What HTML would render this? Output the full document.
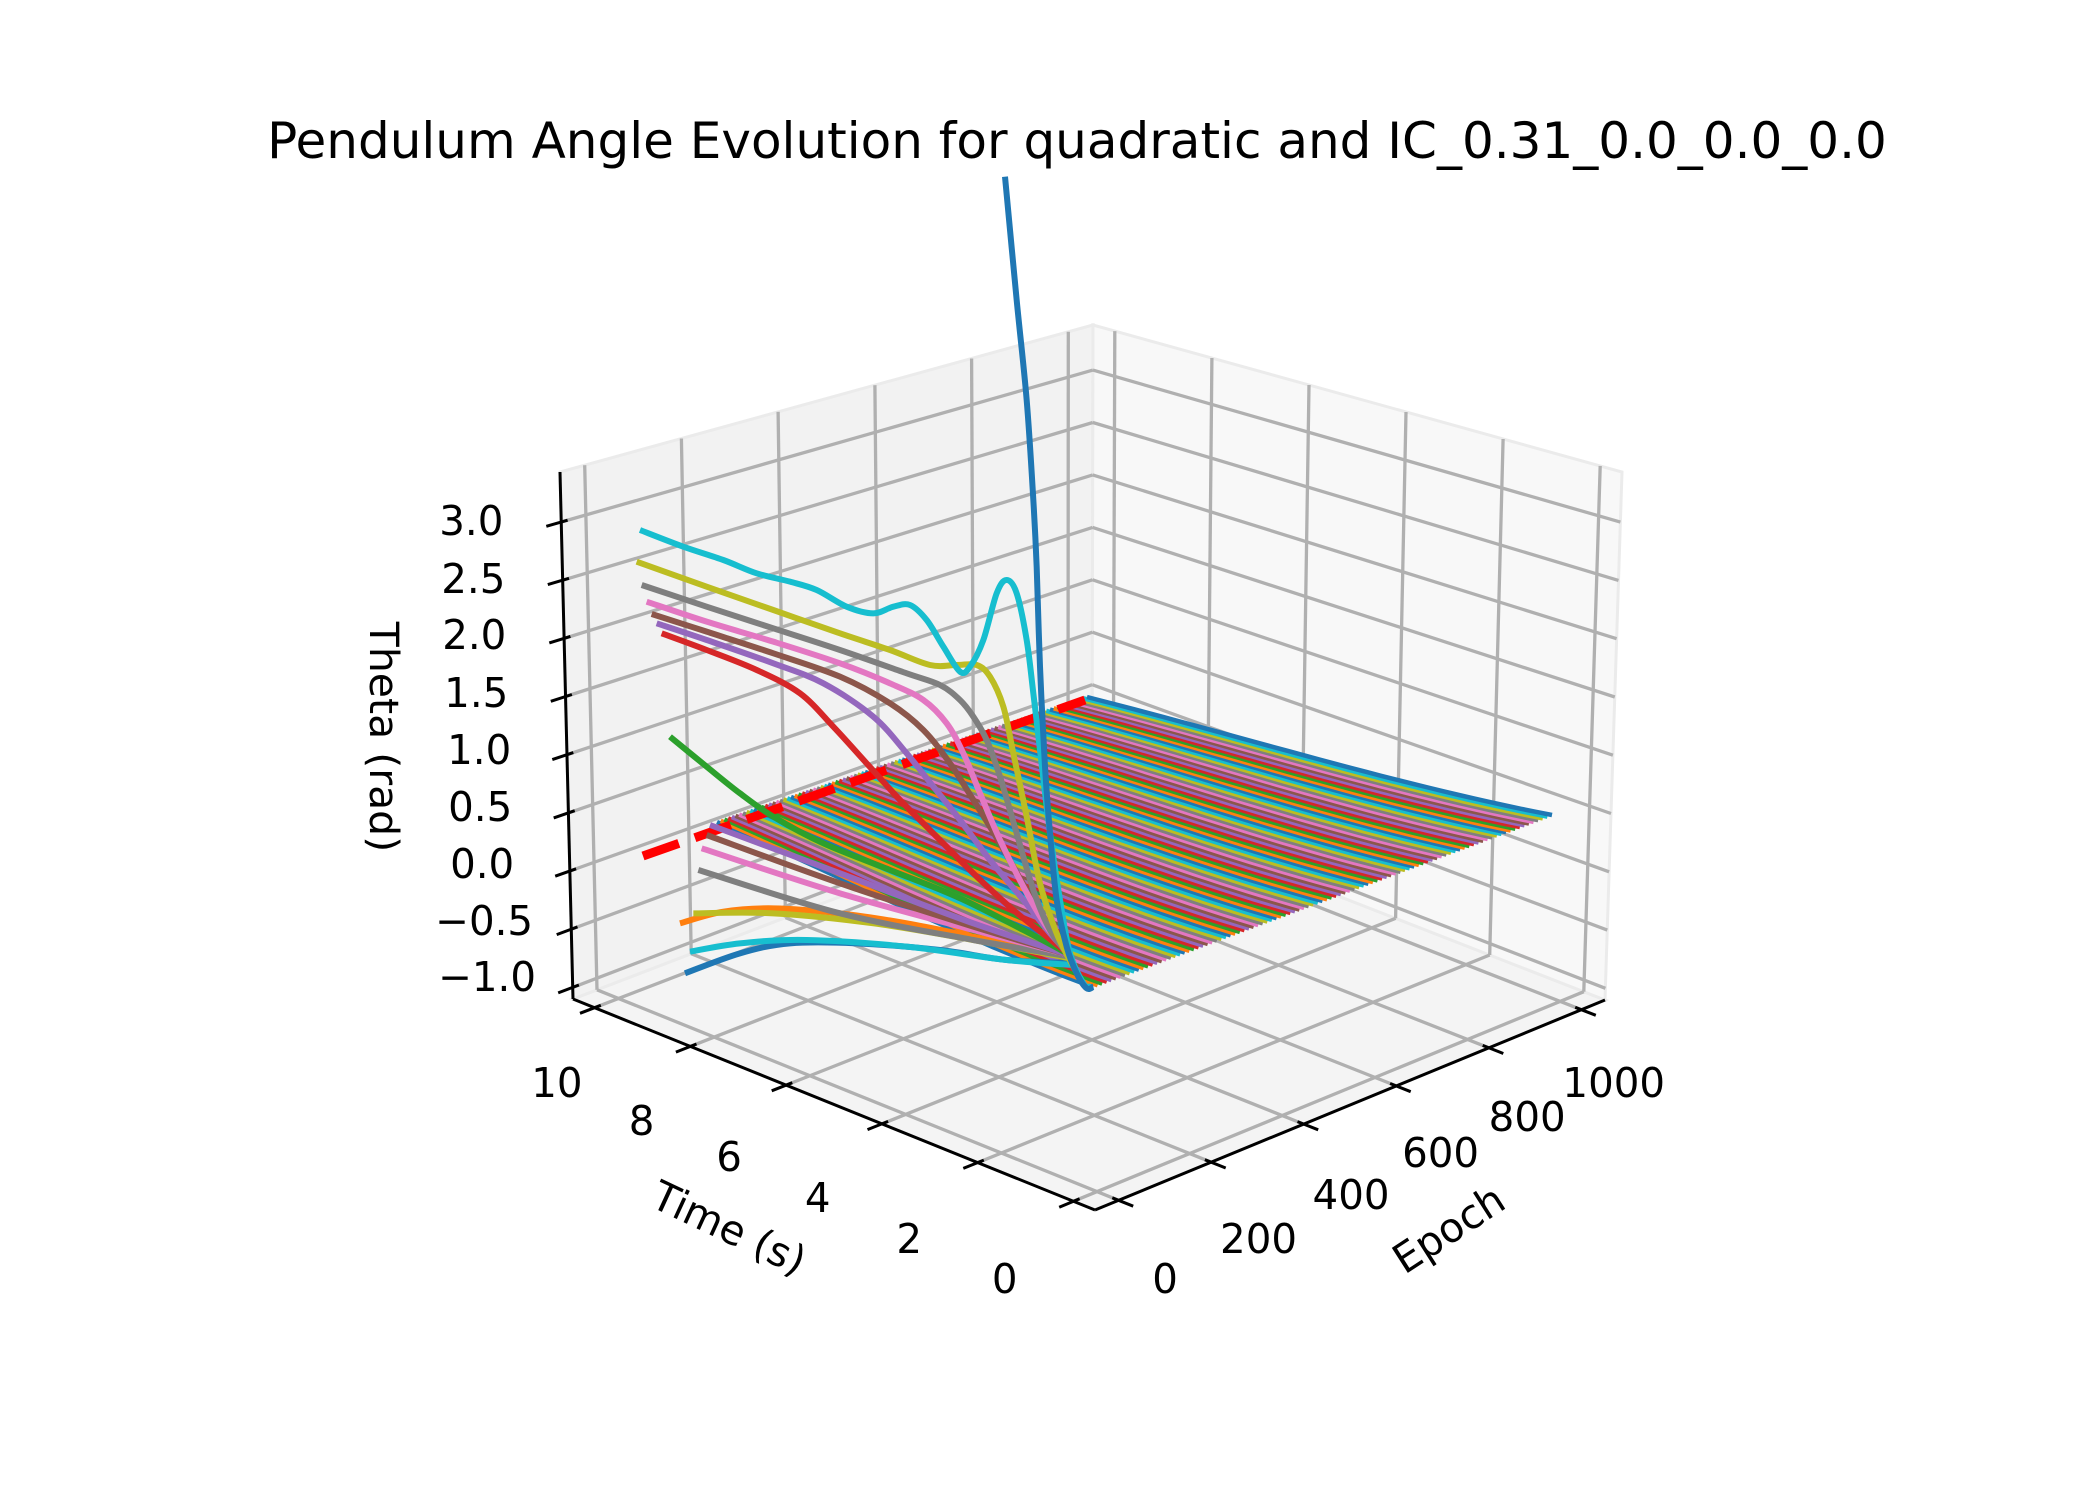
<!DOCTYPE html>
<html><head><meta charset="utf-8"><style>
html,body{margin:0;padding:0;background:#fff;}
svg{display:block;}
text{font-family:"DejaVu Sans","Liberation Sans",sans-serif;fill:#000;}
</style></head><body>
<svg id="s" width="2100" height="1500" viewBox="0 0 2100 1500" xmlns="http://www.w3.org/2000/svg">
<rect width="2100" height="1500" fill="#fff"/>
<g id="panes"></g><g id="grid"></g><g id="axes"></g><g id="data"></g>
<text x="1077" y="158" font-size="50" text-anchor="middle">Pendulum Angle Evolution for quadratic and IC_0.31_0.0_0.0_0.0</text>
<g font-size="41" text-anchor="middle" transform="matrix(0.984 0 0 1 0 -14)">
<text x="566" y="1111">10</text><text x="652" y="1149">8</text><text x="741" y="1185">6</text><text x="831" y="1226">4</text><text x="924" y="1267">2</text><text x="1021" y="1307">0</text>
<text x="1184" y="1307">0</text><text x="1279" y="1267">200</text><text x="1373" y="1223">400</text><text x="1464" y="1181">600</text><text x="1552" y="1145">800</text><text x="1640" y="1111">1000</text>
<text x="495" y="1005">−1.0</text><text x="492" y="949">−0.5</text><text x="490" y="892">0.0</text><text x="488" y="835">0.5</text><text x="487" y="778">1.0</text><text x="484" y="721">1.5</text><text x="482" y="663">2.0</text><text x="481" y="607">2.5</text><text x="479" y="549">3.0</text>
<text transform="translate(376,751) rotate(90)">Theta (rad)</text>
<text transform="translate(735,1255) rotate(25)">Time (s)</text>
<text transform="translate(1480,1255) rotate(-33)">Epoch</text>
</g>
</svg>
<script>
(function(){
var NS="http://www.w3.org/2000/svg";
function el(par,tag,a){var e=document.createElementNS(NS,tag);for(var k in a)e.setAttribute(k,a[k]);document.getElementById(par).appendChild(e);return e;}
function bil(F,L,B,R){return function(s,t){return[0,1].map(function(k){return F[k]*(1-s)*(1-t)+L[k]*s*(1-t)+B[k]*s*t+R[k]*(1-s)*t;});};}
var FL=bil([1095,1210],[573,999],[1092,800],[1605,1000]);
var TP=bil([1095,619],[560,472],[1093,325],[1622,472]);
function pr(u,v,w){var a=FL(u,v),b=TP(u,v);return[a[0]+(b[0]-a[0])*w,a[1]+(b[1]-a[1])*w];}
var tmin=-0.45,tmax=10.45,emin=-51,emax=1051,zmin=-1.1,zmax=3.43;
function U(t){return (t-tmin)/(tmax-tmin);}function V(e){return (e-emin)/(emax-emin);}function W(z){return (z-zmin)/(zmax-zmin);}
function poly(par,pts,a){a.points=pts.map(function(p){return p[0].toFixed(1)+","+p[1].toFixed(1);}).join(" ");return el(par,"polyline",a);}
function pg(par,pts,fill){el(par,"polygon",{points:pts.map(function(p){return p.join(",");}).join(" "),fill:fill,stroke:"#ebebeb","stroke-width":3});}
pg("panes",[pr(0,0,0),pr(1,0,0),pr(1,1,0),pr(0,1,0)],"#f4f4f4");
pg("panes",[pr(1,0,0),pr(1,1,0),pr(1,1,1),pr(1,0,1)],"#f2f2f2");
pg("panes",[pr(1,1,0),pr(0,1,0),pr(0,1,1),pr(1,1,1)],"#f8f8f8");
var G={stroke:"#b0b0b0","stroke-width":3.3,fill:"none"};
function line(par,a,b2,st){var o={};for(var k in st)o[k]=st[k];return poly(par,[a,b2],o);}
var ts=[0,2,4,6,8,10],es=[0,200,400,600,800,1000],zs=[-1,-0.5,0,0.5,1,1.5,2,2.5,3];
ts.forEach(function(t){var u=U(t);line("grid",pr(u,0,0),pr(u,1,0),G);line("grid",pr(u,1,0),pr(u,1,1),G);});
es.forEach(function(e){var v=V(e);line("grid",pr(0,v,0),pr(1,v,0),G);line("grid",pr(1,v,0),pr(1,v,1),G);});
zs.forEach(function(z){var w=W(z);line("grid",pr(1,0,w),pr(1,1,w),G);line("grid",pr(1,1,w),pr(0,1,w),G);});
var K={stroke:"#000","stroke-width":3,fill:"none"};
line("axes",pr(0,0,0),pr(1,0,0),K);line("axes",pr(0,0,0),pr(0,1,0),K);line("axes",pr(1,0,0),pr(1,0,1),K);
ts.forEach(function(t){var u=U(t);line("axes",pr(u,0.012,0),pr(u,-0.028,0),K);});
es.forEach(function(e){var v=V(e);line("axes",pr(0.012,v,0),pr(-0.028,v,0),K);});
zs.forEach(function(z){var w=W(z);line("axes",pr(1,0.012,w),pr(1,-0.028,w),K);});
var col=["#1f77b4","#ff7f0e","#2ca02c","#d62728","#9467bd","#8c564b","#e377c2","#7f7f7f","#bcbd22","#17becf"];
var LW=6;
for(var i=0;i<=100;i++){var f=i/100;
var S=[717+(1087-717)*f,822+(697-822)*f],E=[1093+(1552-1093)*f,987+(815-987)*f];
var pts=[];for(var j=0;j<=30;j++){var g=j/30;var dy=28*g*g*(1-g);pts.push([S[0]+(E[0]-S[0])*g,S[1]+(E[1]-S[1])*g+dy]);}
poly("data",pts,{stroke:col[i%10],"stroke-width":4.5,fill:"none"});}
el("data","line",{x1:643,y1:856,x2:1085,y2:700,stroke:"#f00","stroke-width":9,"stroke-dasharray":"38 17"});
function Z(a){return a.map(function(p){return[640+p[0]/3,500+p[1]/3];});}
var curves=[
["#1f77b4",[[135,1420],[300,1360],[450,1330],[650,1330],[900,1350],[1100,1380],[1300,1390]]],
["#17becf",[[150,1355],[300,1330],[500,1320],[800,1340],[1100,1380],[1300,1395]]],
["#ff7f0e",[[120,1270],[250,1235],[400,1225],[600,1240],[800,1270],[1000,1310],[1290,1370]]],
["#bcbd22",[[160,1240],[400,1240],[700,1270],[1000,1320],[1290,1375]]],
["#7f7f7f",[[175,1110],[600,1240],[1000,1320],[1290,1370]]],
["#e377c2",[[185,1045],[600,1180],[1000,1290],[1290,1365]]],
["#8c564b",[[200,1005],[600,1150],[1000,1280],[1290,1365]]],
["#9467bd",[[210,975],[600,1120],[1000,1270],[1290,1365]]],
["#2ca02c",[[90,710],[200,800],[300,880],[400,950],[550,1030],[750,1110],[950,1190],[1150,1290],[1290,1365]]],
["#d62728",[[65,400],[200,450],[350,510],[480,580],[580,680],[680,790],[780,900],[880,1000],[1000,1120],[1120,1230],[1220,1310],[1290,1365]]],
["#9467bd",[[50,370],[200,420],[400,490],[550,550],[700,650],[800,760],[880,860],[960,960],[1050,1080],[1150,1200],[1230,1300],[1290,1365]]],
["#8c564b",[[35,342],[200,395],[400,460],[600,530],[750,610],[850,690],[930,790],[1000,900],[1080,1030],[1160,1170],[1230,1280],[1290,1365]]],
["#e377c2",[[20,305],[200,365],[400,425],[600,490],[750,550],[850,600],[920,670],[970,760],[1020,880],[1080,1020],[1150,1160],[1220,1280],[1290,1365]]],
["#7f7f7f",[[5,255],[200,320],[400,385],[600,450],[800,520],[900,555],[960,600],[1000,650],[1040,720],[1080,830],[1130,1000],[1180,1170],[1230,1290],[1290,1370]]],
["#bcbd22",[[-10,185],[200,260],[400,330],[600,400],[750,450],[870,495],[950,495],[1010,495],[1050,530],[1090,620],[1120,760],[1160,950],[1200,1150],[1250,1300],[1300,1400],[1330,1450]]],
["#17becf",[[0,90],[130,140],[250,180],[350,220],[450,245],[530,270],[620,320],[700,340],[760,320],[810,315],[860,360],[910,440],[960,515],[990,500],[1030,420],[1070,280],[1100,240],[1130,280],[1160,420],[1180,580],[1200,750],[1230,1000],[1260,1200],[1290,1360],[1330,1450],[1350,1460]]],
["#1f77b4",[[1095,-970],[1130,-600],[1160,-300],[1180,0],[1190,200],[1200,500],[1215,800],[1230,1000],[1250,1200],[1280,1340],[1310,1420],[1340,1465],[1360,1460]]]
];
curves.forEach(function(c){var pts=Z(c[1]);
var d="M"+pts[0][0]+","+pts[0][1];
for(var i=0;i<pts.length-1;i++){var p0=pts[Math.max(i-1,0)],p1=pts[i],p2=pts[i+1],p3=pts[Math.min(i+2,pts.length-1)];
d+=" C"+(p1[0]+(p2[0]-p0[0])/6)+","+(p1[1]+(p2[1]-p0[1])/6)+" "+(p2[0]-(p3[0]-p1[0])/6)+","+(p2[1]-(p3[1]-p1[1])/6)+" "+p2[0]+","+p2[1];}
el("data","path",{d:d,stroke:c[0],"stroke-width":LW,fill:"none"});});
})();
</script>
</body></html>
